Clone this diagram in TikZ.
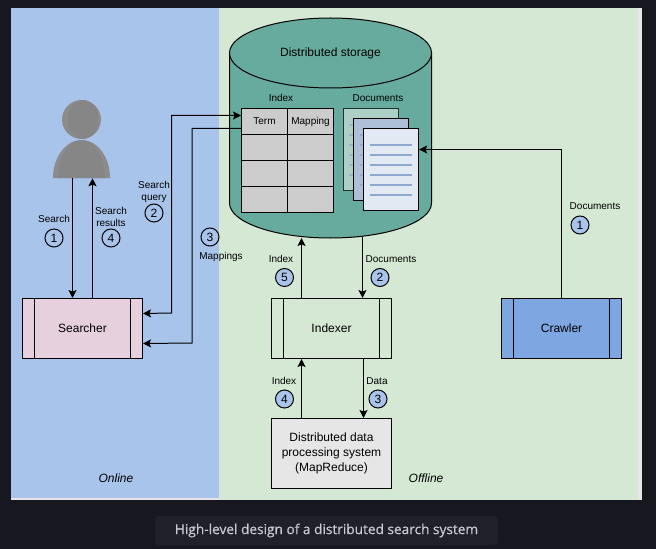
\documentclass[tikz,border=0pt]{standalone}
\usepackage{fontspec}
\setmainfont{Liberation Sans}
\newfontfamily\capfont[FakeBold=0.4]{Open Sans}
\usetikzlibrary{arrows.meta,shapes.geometric}
\definecolor{pagebg}{HTML}{16171F}
\definecolor{capbg}{HTML}{1F2029}
\definecolor{capfg}{HTML}{C9CBD1}
\definecolor{panelbg}{HTML}{E6E6E6}
\definecolor{onlinebg}{HTML}{A9C4EB}
\definecolor{offlinebg}{HTML}{D5E8D4}
\definecolor{storagebg}{HTML}{67AB9F}
\definecolor{tablebg}{HTML}{CCCCCC}
\definecolor{userbg}{HTML}{8C8C8C}
\definecolor{searcherbg}{HTML}{E6D0DE}
\definecolor{crawlerbg}{HTML}{7EA6E0}
\definecolor{docline}{HTML}{8FA8CF}
\tikzset{
	lbl/.style={font=\fontsize{7.5pt}{9pt}\selectfont,inner sep=0pt,align=center},
	txt/.style={font=\fontsize{9pt}{11.25pt}\selectfont,inner sep=0pt,align=center},
	stepnum/.style={circle,draw,line width=0.75pt,minimum size=13.5pt,inner sep=0pt,font=\fontsize{9pt}{9pt}\selectfont},
	stepblue/.style={stepnum,fill=onlinebg},
	procbox/.style={draw,line width=0.75pt,minimum width=90pt,minimum height=45pt,inner sep=0pt,font=\fontsize{9pt}{11pt}\selectfont,
		path picture={\draw[line width=0.75pt] ([xshift=9pt]path picture bounding box.south west) -- ([xshift=9pt]path picture bounding box.north west);
			\draw[line width=0.75pt] ([xshift=-9pt]path picture bounding box.south east) -- ([xshift=-9pt]path picture bounding box.north east);}},
	cell/.style={draw,line width=0.75pt,fill=tablebg,minimum height=19.5pt,inner sep=0pt,font=\fontsize{7.5pt}{9pt}\selectfont},
	termcell/.style={cell,minimum width=34.5pt},
	mapcell/.style={cell,minimum width=34.5pt},
	docpage/.style={draw,line width=0.75pt,minimum width=41.5pt,minimum height=60.75pt,inner sep=0pt},
	arr/.style={line width=0.75pt,-{Stealth[length=6pt,width=6pt,inset=1.2pt]}},
	arrboth/.style={line width=0.75pt,{Stealth[length=6pt,width=6pt,inset=1.2pt]}-{Stealth[length=6pt,width=6pt,inset=1.2pt]}}
}
\begin{document}
\begin{tikzpicture}[x=0.75pt,y=-0.75pt]
	\useasboundingbox (0,0) rectangle (656,549);
	\fill[pagebg] (0,0) rectangle (656,549);
	\fill[panelbg] (11,8) rectangle (642,500);
	\fill[onlinebg] (11,8) rectangle (219,498);
	\fill[offlinebg] (219,8) rectangle (638,500);

	% storage
	\draw[line width=0.75pt,fill=storagebg] (229.5,53) -- (229.5,203) arc[start angle=180,end angle=360,x radius=75.75pt,y radius=26.25pt] -- (431.5,53) -- cycle;
	\node (storage) [ellipse,draw,line width=0.75pt,fill=storagebg,minimum width=151.5pt,minimum height=52.5pt,inner sep=0pt,font=\fontsize{9pt}{11pt}\selectfont] at (330.5,53) {Distributed storage};
	\coordinate (storagein) at (301.5,238);
	\coordinate (storageout) at (362.5,237);

	% index table
	\node (indexlbl) [lbl] at (281,98) {Index};
	\node (term) [termcell] at (264.5,121.5) {Term};
	\node (mapping) [mapcell] at (310.5,121.5) {Mapping};
	\foreach \y in {147.5,173.5,199.5} {
		\node (termrow\y) [termcell] at (264.5,\y) {};
		\node (maprow\y) [mapcell] at (310.5,\y) {};
	}

	% documents
	\node (docslbl) [lbl] at (378,98.5) {Documents};
	\node (page1) [docpage,draw=black!70!storagebg,fill=storagebg!30!offlinebg!85!docline] at (371,149.5) {};
	\foreach \y in {125,135,...,175} \draw[docline,line width=1.5pt,opacity=0.7] (349,\y) -- (391,\y);
	\node (page2) [docpage,fill=docline!30!offlinebg!90!blue] at (381,159.5) {};
	\foreach \y in {135,145,...,185} \draw[docline,line width=1.5pt,opacity=0.85] (360,\y) -- (402,\y);
	\node (page3) [docpage,fill=docline!25!white] at (391,169.5) {};
	\foreach \y in {145,155,...,195} \draw[docline,line width=1.5pt] (370,\y) -- (412,\y);

	% user
	\node (user) [minimum width=42.75pt,minimum height=58.5pt,inner sep=0pt] at (81.5,139) {};
	\fill[userbg] (81.5,119.5) circle[radius=14.6pt];
	\fill[userbg!96!black] (83,119.5) circle[x radius=11.5pt,y radius=14.6pt];
	\fill[userbg] (53,178) arc[start angle=180,end angle=0,x radius=21.4pt,y radius=28.5pt] -- cycle;
	\fill[userbg!96!black] (58,178) arc[start angle=180,end angle=0,x radius=17.6pt,y radius=28.4pt] -- cycle;

	% processes
	\node (searcher) [procbox,fill=searcherbg] at (82.5,328.5) {Searcher};
	\node (indexer) [procbox] at (331.5,328.5) {Indexer};
	\node (crawler) [procbox,fill=crawlerbg] at (561.5,328.5) {Crawler};
	\node (mapreduce) [draw,line width=0.75pt,fill=panelbg,minimum width=90pt,minimum height=52.5pt,inner sep=0pt,txt] at (331.5,453.5) {Distributed data\\processing system\\(MapReduce)};

	% connectors
	\draw[arr] ([xshift=-6.75pt]user.south) -- ([xshift=-7.5pt]searcher.north);
	\draw[arr] ([xshift=7.5pt]searcher.north) -- ([xshift=8.25pt]user.south);
	\draw[arrboth] ([yshift=4.5pt]term.west) -| (171.5,313) -- ([yshift=11.25pt]searcher.east);
	\draw[arr] ([yshift=-5.25pt]term.west) -| (192,343) -- ([yshift=-11.25pt]searcher.east);
	\draw[arr] ([xshift=-22.5pt]indexer.north) -- (storagein);
	\draw[arr] (storageout) -- ([xshift=23.25pt]indexer.north);
	\draw[arr] ([xshift=-22.5pt]mapreduce.north) -- ([xshift=-22.5pt]indexer.south);
	\draw[arr] ([xshift=24pt]indexer.south) -- ([xshift=24pt]mapreduce.north);
	\draw[arr] (crawler.north) |- ([yshift=15pt]page3.east);

	% labels
	\node (searchlbl) [lbl] at (54,219) {Search};
	\node (step1) [stepnum] at (54,238) {1};
	\node (resultslbl) [lbl] at (111,217) {Search\\results};
	\node (step4) [stepnum] at (111,238) {4};
	\node (querylbl) [lbl] at (154,192) {Search\\query};
	\node (step2) [stepnum] at (154,213) {2};
	\node (step3) [stepnum] at (210,237) {3};
	\node (mappingslbl) [lbl] at (221,257) {Mappings};
	\node (crawldocslbl) [lbl] at (595,206.5) {Documents};
	\node (crawlstep) [stepblue] at (580,225) {1};
	\node (indexlbla) [lbl] at (281,259) {Index};
	\node (stepfive) [stepblue] at (284.5,277.5) {5};
	\node (docslblb) [lbl] at (391,259) {Documents};
	\node (steptwo) [stepblue] at (380,277.5) {2};
	\node (indexlblb) [lbl] at (284,381) {Index};
	\node (stepfour) [stepblue] at (284.5,399) {4};
	\node (datalbl) [lbl] at (377,381) {Data};
	\node (stepthree) [stepblue] at (378,399) {3};
	\node (onlinelbl) [txt,font=\fontsize{9pt}{11pt}\itshape] at (116,478) {Online};
	\node (offlinelbl) [txt,font=\fontsize{9pt}{11pt}\itshape] at (426,478) {Offline};

	% caption
	\node (caption) [fill=capbg,rounded corners=2.5pt,minimum width=257pt,minimum height=21.75pt,inner sep=0pt,text=capfg,font=\capfont\fontsize{10.25pt}{12pt}\selectfont] at (326.5,530.5) {High-level design of a distributed search system};
\end{tikzpicture}
\end{document}
